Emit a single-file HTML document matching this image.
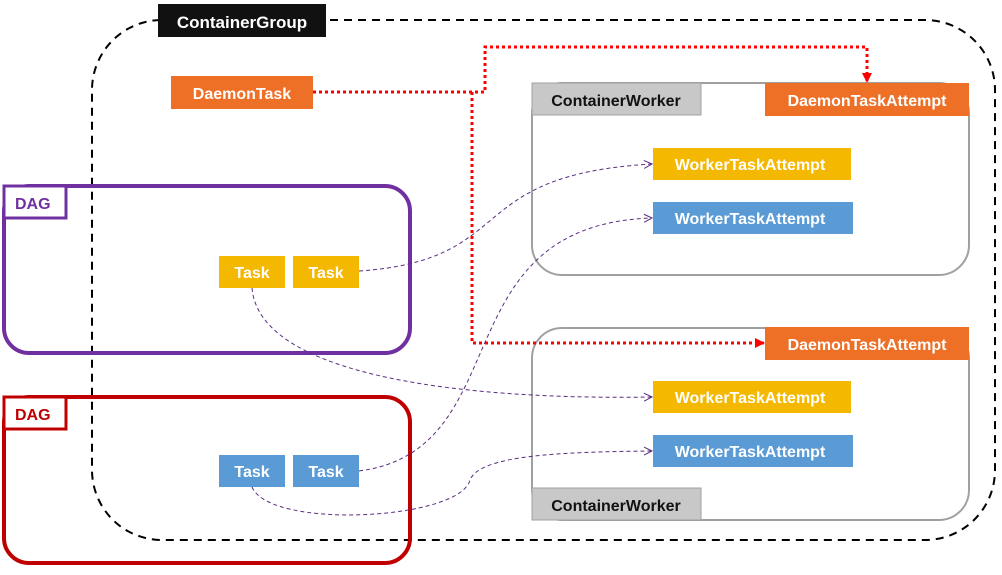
<!DOCTYPE html>
<html><head><meta charset="utf-8"><style>
body{margin:0;background:#fff}
text{font-family:"Liberation Sans",sans-serif;font-weight:bold}
</style></head><body>
<svg width="1002" height="570" viewBox="0 0 1002 570" xmlns="http://www.w3.org/2000/svg">
<defs>
<marker id="ar" markerWidth="10" markerHeight="10" refX="9" refY="5" orient="auto" markerUnits="userSpaceOnUse"><path d="M0,0 L10,5 L0,10 z" fill="#f00"/></marker>
<marker id="ap" markerWidth="10" markerHeight="10" refX="9" refY="5" orient="auto" markerUnits="userSpaceOnUse"><path d="M1,1 L9,5 L1,9" fill="none" stroke="#5a2d82" stroke-width="1"/></marker>
</defs>
<rect x="92" y="20" width="903" height="520" rx="70" fill="none" stroke="#000" stroke-width="2" stroke-dasharray="8,6"/>
<rect x="158" y="4" width="168" height="33" fill="#111"/>
<text x="242" y="28" fill="#fff" font-size="17" text-anchor="middle">ContainerGroup</text>
<!-- workers -->
<rect x="532" y="83" width="437" height="192" rx="30" fill="#fff" stroke="#a0a0a0" stroke-width="2"/>
<rect x="532" y="83" width="169" height="32" fill="#c8c8c8" stroke="#a0a0a0"/>
<text x="616" y="106" fill="#111" font-size="16" text-anchor="middle">ContainerWorker</text>
<rect x="532" y="328" width="437" height="192" rx="30" fill="#fff" stroke="#a0a0a0" stroke-width="2"/>
<rect x="532" y="488" width="169" height="32" fill="#c8c8c8" stroke="#a0a0a0"/>
<text x="616" y="511" fill="#111" font-size="16" text-anchor="middle">ContainerWorker</text>
<!-- DAGs -->
<rect x="4" y="186" width="406" height="167" rx="25" fill="none" stroke="#7030a0" stroke-width="4"/>
<rect x="4" y="186" width="62" height="32" fill="#fff" stroke="#7030a0" stroke-width="3"/>
<text x="15" y="209" fill="#7030a0" font-size="16">DAG</text>
<rect x="4" y="397" width="406" height="166" rx="25" fill="none" stroke="#c00000" stroke-width="4"/>
<rect x="4" y="397" width="62" height="32" fill="#fff" stroke="#c00000" stroke-width="3"/>
<text x="15" y="420" fill="#c00000" font-size="16">DAG</text>
<!-- red dotted -->
<path d="M313,92 L485,92 L485,47 L867,47 L867,82" fill="none" stroke="#f00" stroke-width="3" stroke-dasharray="3,3" marker-end="url(#ar)"/>
<path d="M472,92 L472,343 L764,343" fill="none" stroke="#f00" stroke-width="3" stroke-dasharray="3,3" marker-end="url(#ar)"/>
<!-- purple curves -->
<g fill="none" stroke="#5a2d82" stroke-width="1" stroke-dasharray="4,3" marker-end="url(#ap)">
<path d="M359,271 C520,260 460,175 652,164"/>
<path d="M359,471 C520,450 440,225 652,218"/>
<path d="M252,288 C260,380 480,400 652,397"/>
<path d="M252,487 C270,530 460,520 470,480 C480,455 560,452 652,451"/>
</g>
<!-- boxes -->
<g font-size="16" fill="#fff">
<rect x="171" y="76" width="142" height="33" fill="#ee7027"/><text x="242" y="99" text-anchor="middle" fill="#fff">DaemonTask</text>
<rect x="765" y="83" width="204" height="33" fill="#ee7027"/><text x="867" y="106" text-anchor="middle" fill="#fff">DaemonTaskAttempt</text>
<rect x="765" y="327" width="204" height="33" fill="#ee7027"/><text x="867" y="350" text-anchor="middle" fill="#fff">DaemonTaskAttempt</text>
<rect x="653" y="148" width="198" height="32" fill="#f5b800"/><text x="750" y="170" text-anchor="middle" fill="#fff">WorkerTaskAttempt</text>
<rect x="653" y="202" width="200" height="32" fill="#5b9bd5"/><text x="750" y="224" text-anchor="middle" fill="#fff">WorkerTaskAttempt</text>
<rect x="653" y="381" width="198" height="32" fill="#f5b800"/><text x="750" y="403" text-anchor="middle" fill="#fff">WorkerTaskAttempt</text>
<rect x="653" y="435" width="200" height="32" fill="#5b9bd5"/><text x="750" y="457" text-anchor="middle" fill="#fff">WorkerTaskAttempt</text>
<rect x="219" y="256" width="66" height="32" fill="#f5b800"/><text x="252" y="278" text-anchor="middle" fill="#fff">Task</text>
<rect x="293" y="256" width="66" height="32" fill="#f5b800"/><text x="326" y="278" text-anchor="middle" fill="#fff">Task</text>
<rect x="219" y="455" width="66" height="32" fill="#5b9bd5"/><text x="252" y="477" text-anchor="middle" fill="#fff">Task</text>
<rect x="293" y="455" width="66" height="32" fill="#5b9bd5"/><text x="326" y="477" text-anchor="middle" fill="#fff">Task</text>
</g>
</svg>
</body></html>
